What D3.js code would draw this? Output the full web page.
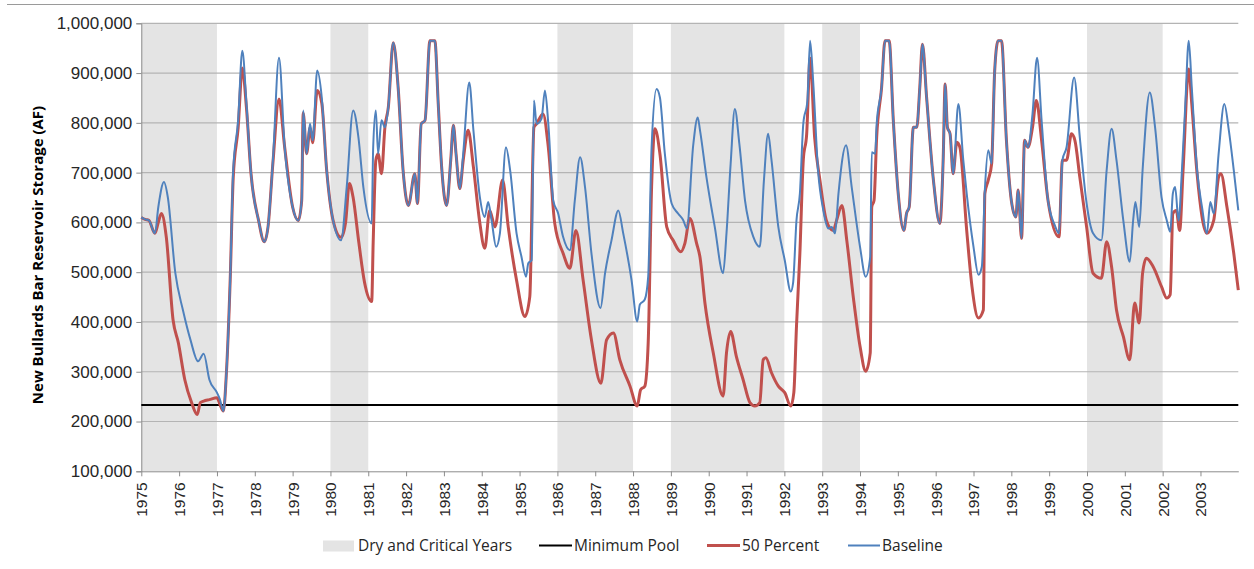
<!DOCTYPE html>
<html>
<head>
<meta charset="utf-8">
<script src="https://cdn.jsdelivr.net/npm/d3@7"></script>
<style>
  body { margin: 0; background: #fff; }
  svg { display: block; font-family: "Open Sans", "Liberation Sans", sans-serif; }
</style>
</head>
<body>
<div id="chart"></div>
<script>
// Dry and critical water years (shaded bands)
const dryYears = [[1975, 1977], [1980, 1981], [1986, 1988], [1989, 1992], [1993, 1994], [2000, 2002]];

const yearTicks = d3.range(1975, 2004);
const storageTicks = d3.range(100000, 1000001, 100000);
const minimumPool = 233000;

// [decimal year, storage in thousand AF]
const baseline = [
  [1975.00, 610], [1975.10, 606], [1975.20, 604], [1975.36, 578], [1975.45, 631], [1975.60, 681],
  [1975.70, 651], [1975.90, 498], [1976.10, 424], [1976.30, 364], [1976.50, 321], [1976.65, 336],
  [1976.80, 284], [1977.00, 258], [1977.08, 244], [1977.17, 221], [1977.25, 298], [1977.35, 485],
  [1977.43, 705], [1977.56, 805], [1977.67, 945], [1977.78, 838], [1977.90, 698], [1978.10, 604],
  [1978.25, 561], [1978.35, 591], [1978.48, 725], [1978.64, 931], [1978.79, 751], [1979.00, 631],
  [1979.15, 604], [1979.24, 644], [1979.28, 825], [1979.37, 738], [1979.46, 798], [1979.53, 765],
  [1979.65, 905], [1979.77, 851], [1979.90, 705], [1980.07, 604], [1980.28, 564], [1980.43, 671],
  [1980.60, 825], [1980.74, 771], [1980.87, 671], [1981.09, 598], [1981.13, 751], [1981.20, 825],
  [1981.26, 738], [1981.35, 805], [1981.44, 791], [1981.53, 831], [1981.66, 961], [1981.79, 871],
  [1981.92, 705], [1982.06, 634], [1982.23, 698], [1982.30, 638], [1982.40, 798], [1982.50, 805],
  [1982.63, 965], [1982.76, 965], [1982.85, 838], [1982.94, 711], [1983.07, 634], [1983.18, 725],
  [1983.25, 795], [1983.32, 738], [1983.42, 668], [1983.51, 738], [1983.67, 881], [1983.78, 785],
  [1983.95, 651], [1984.08, 611], [1984.17, 641], [1984.26, 604], [1984.38, 551], [1984.48, 578],
  [1984.64, 751], [1984.75, 705], [1984.92, 578], [1985.05, 531], [1985.17, 491], [1985.23, 518],
  [1985.32, 524], [1985.38, 845], [1985.45, 798], [1985.58, 808], [1985.67, 865], [1985.76, 798],
  [1985.89, 644], [1986.02, 618], [1986.15, 571], [1986.33, 544], [1986.46, 644], [1986.60, 731],
  [1986.73, 671], [1986.90, 538], [1987.14, 428], [1987.26, 498], [1987.43, 564], [1987.61, 624],
  [1987.74, 578], [1987.96, 484], [1988.11, 401], [1988.18, 435], [1988.31, 445], [1988.40, 491],
  [1988.49, 751], [1988.62, 868], [1988.71, 851], [1988.84, 738], [1989.02, 638], [1989.19, 618],
  [1989.33, 604], [1989.42, 588], [1989.59, 755], [1989.71, 811], [1989.77, 785], [1989.94, 691],
  [1990.16, 591], [1990.38, 498], [1990.47, 578], [1990.58, 718], [1990.69, 828], [1990.81, 758],
  [1990.96, 644], [1991.18, 571], [1991.35, 551], [1991.46, 685], [1991.57, 778], [1991.66, 725],
  [1991.84, 591], [1992.01, 524], [1992.17, 461], [1992.23, 478], [1992.32, 604], [1992.41, 658],
  [1992.50, 798], [1992.61, 845], [1992.68, 965], [1992.76, 885], [1992.89, 705], [1993.03, 624],
  [1993.16, 588], [1993.25, 591], [1993.34, 578], [1993.43, 658], [1993.63, 755], [1993.78, 671],
  [1994.00, 551], [1994.15, 491], [1994.27, 531], [1994.31, 741], [1994.40, 738], [1994.44, 798],
  [1994.57, 871], [1994.66, 965], [1994.77, 965], [1994.88, 805], [1995.01, 658], [1995.16, 584],
  [1995.23, 618], [1995.30, 631], [1995.41, 791], [1995.50, 791], [1995.58, 871], [1995.65, 958],
  [1995.76, 851], [1995.94, 685], [1996.11, 598], [1996.20, 731], [1996.25, 878], [1996.31, 791],
  [1996.38, 778], [1996.46, 698], [1996.60, 838], [1996.73, 725], [1996.82, 658], [1997.00, 551],
  [1997.13, 495], [1997.22, 511], [1997.30, 665], [1997.39, 745], [1997.48, 718], [1997.56, 905],
  [1997.65, 965], [1997.74, 965], [1997.87, 765], [1998.00, 644], [1998.12, 611], [1998.18, 665],
  [1998.27, 568], [1998.35, 765], [1998.44, 751], [1998.56, 818], [1998.68, 931], [1998.80, 805],
  [1998.97, 644], [1999.15, 594], [1999.26, 578], [1999.35, 725], [1999.46, 751], [1999.66, 891],
  [1999.81, 771], [1999.99, 638], [2000.16, 578], [2000.38, 564], [2000.52, 705], [2000.65, 788],
  [2000.78, 725], [2000.96, 604], [2001.13, 521], [2001.22, 604], [2001.28, 641], [2001.38, 591],
  [2001.47, 705], [2001.66, 861], [2001.80, 791], [2001.97, 651], [2002.11, 604], [2002.20, 581],
  [2002.27, 658], [2002.33, 671], [2002.42, 604], [2002.51, 705], [2002.60, 838], [2002.69, 965],
  [2002.77, 871], [2002.91, 705], [2003.04, 631], [2003.17, 578], [2003.26, 641], [2003.35, 618],
  [2003.48, 738], [2003.63, 838], [2003.75, 785], [2003.88, 705], [2004.00, 624]
];

const fiftyPercent = [
  [1975.00, 610], [1975.10, 606], [1975.20, 604], [1975.36, 578], [1975.45, 600], [1975.53, 618],
  [1975.66, 571], [1975.84, 404], [1975.98, 358], [1976.15, 284], [1976.33, 238], [1976.48, 214],
  [1976.56, 238], [1976.65, 241], [1976.80, 244], [1977.00, 248], [1977.08, 234], [1977.17, 221],
  [1977.25, 298], [1977.35, 485], [1977.43, 690], [1977.56, 790], [1977.67, 910], [1977.78, 830],
  [1977.90, 698], [1978.10, 604], [1978.25, 561], [1978.35, 591], [1978.48, 720], [1978.64, 848],
  [1978.79, 751], [1979.00, 631], [1979.15, 604], [1979.24, 644], [1979.28, 820], [1979.37, 738],
  [1979.46, 790], [1979.53, 760], [1979.65, 865], [1979.77, 840], [1979.90, 705], [1980.07, 604],
  [1980.28, 570], [1980.40, 600], [1980.50, 678], [1980.60, 650], [1980.75, 560], [1980.90, 480],
  [1981.09, 441], [1981.13, 560], [1981.20, 725], [1981.26, 738], [1981.35, 698], [1981.44, 791],
  [1981.53, 831], [1981.66, 961], [1981.79, 871], [1981.92, 705], [1982.06, 634], [1982.23, 698],
  [1982.30, 638], [1982.40, 798], [1982.50, 805], [1982.63, 965], [1982.76, 965], [1982.85, 838],
  [1982.94, 711], [1983.07, 634], [1983.18, 725], [1983.25, 795], [1983.32, 738], [1983.42, 668],
  [1983.51, 725], [1983.64, 785], [1983.78, 711], [1983.94, 604], [1984.08, 548], [1984.21, 624],
  [1984.35, 591], [1984.55, 685], [1984.70, 591], [1984.92, 484], [1985.14, 411], [1985.27, 451],
  [1985.38, 791], [1985.45, 798], [1985.62, 818], [1985.76, 751], [1985.93, 598], [1986.15, 538],
  [1986.33, 508], [1986.49, 584], [1986.68, 484], [1986.90, 364], [1987.15, 277], [1987.30, 364],
  [1987.48, 378], [1987.65, 324], [1987.92, 271], [1988.11, 231], [1988.20, 264], [1988.31, 271],
  [1988.40, 358], [1988.49, 671], [1988.58, 788], [1988.71, 738], [1988.89, 591], [1989.06, 564],
  [1989.26, 541], [1989.37, 558], [1989.50, 608], [1989.68, 558], [1989.77, 530], [1989.90, 438],
  [1990.12, 338], [1990.38, 251], [1990.47, 338], [1990.58, 381], [1990.73, 331], [1990.91, 284],
  [1991.09, 238], [1991.22, 231], [1991.35, 238], [1991.44, 324], [1991.51, 328], [1991.66, 298],
  [1991.84, 271], [1992.01, 258], [1992.17, 231], [1992.25, 258], [1992.32, 391], [1992.41, 538],
  [1992.50, 725], [1992.59, 778], [1992.68, 930], [1992.80, 771], [1992.94, 685], [1993.11, 604],
  [1993.29, 584], [1993.38, 604], [1993.52, 634], [1993.65, 564], [1993.83, 445], [1994.00, 351],
  [1994.15, 301], [1994.27, 338], [1994.31, 631], [1994.37, 644], [1994.44, 771], [1994.57, 871],
  [1994.66, 965], [1994.77, 965], [1994.88, 805], [1995.01, 658], [1995.16, 584], [1995.23, 618],
  [1995.30, 631], [1995.41, 791], [1995.50, 791], [1995.58, 871], [1995.65, 958], [1995.76, 851],
  [1995.94, 685], [1996.11, 598], [1996.20, 731], [1996.25, 878], [1996.31, 791], [1996.38, 778],
  [1996.46, 698], [1996.56, 761], [1996.64, 751], [1996.82, 584], [1996.96, 471], [1997.13, 408],
  [1997.26, 424], [1997.30, 658], [1997.39, 685], [1997.48, 718], [1997.56, 905], [1997.65, 965],
  [1997.74, 965], [1997.87, 765], [1998.00, 644], [1998.12, 611], [1998.18, 665], [1998.27, 568],
  [1998.35, 765], [1998.44, 751], [1998.56, 791], [1998.66, 845], [1998.80, 765], [1998.97, 644],
  [1999.26, 571], [1999.35, 725], [1999.46, 725], [1999.59, 778], [1999.68, 765], [1999.81, 691],
  [1999.99, 591], [2000.16, 498], [2000.38, 488], [2000.52, 561], [2000.65, 511], [2000.78, 424],
  [2000.96, 371], [2001.13, 324], [2001.26, 438], [2001.38, 398], [2001.47, 498], [2001.57, 528],
  [2001.75, 511], [2001.97, 471], [2002.11, 448], [2002.20, 455], [2002.27, 618], [2002.36, 624],
  [2002.45, 584], [2002.54, 705], [2002.69, 908], [2002.77, 838], [2002.91, 698], [2003.17, 578],
  [2003.35, 604], [2003.48, 691], [2003.54, 698], [2003.70, 631], [2003.88, 538], [2004.00, 464]
];

const width = 1254, height = 569;
const margin = { top: 23.3, right: 15.7, bottom: 97.7, left: 141.3 };

const svg = d3.select("#chart").append("svg")
  .attr("width", width)
  .attr("height", height);

const x = d3.scaleLinear().domain([1975, 2004]).range([margin.left, width - margin.right]);
const y = d3.scaleLinear().domain([100000, 1000000]).range([height - margin.bottom, margin.top]);

// top frame line
svg.append("line")
  .attr("x1", 7).attr("x2", width).attr("y1", 4.5).attr("y2", 4.5)
  .attr("stroke", "#9a9a9a").attr("stroke-width", 1.2);

// dry year bands
svg.append("g").selectAll("rect")
  .data(dryYears)
  .join("rect")
  .attr("x", d => x(d[0]))
  .attr("width", d => x(d[1]) - x(d[0]))
  .attr("y", y(1000000))
  .attr("height", y(100000) - y(1000000))
  .attr("fill", "#e4e4e4");

// gridlines
svg.append("g").selectAll("line")
  .data(storageTicks.slice(1))
  .join("line")
  .attr("x1", x(1975)).attr("x2", x(2004))
  .attr("y1", d => y(d)).attr("y2", d => y(d))
  .attr("stroke", "#b4b4b4").attr("stroke-width", 1.2);

// y axis
const yAxis = svg.append("g")
  .attr("transform", `translate(${x(1975)},0)`)
  .call(d3.axisLeft(y).tickValues(storageTicks).tickFormat(d3.format(",")).tickSize(5).tickPadding(4));
yAxis.select(".domain").attr("stroke", "#8c8c8c");
yAxis.selectAll(".tick line").attr("stroke", "#8c8c8c");
yAxis.selectAll(".tick text")
  .attr("fill", "#262626")
  .style("font-size", "17px");

// x axis
const xAxis = svg.append("g")
  .attr("transform", `translate(0,${y(100000)})`)
  .call(d3.axisBottom(x).tickValues(yearTicks).tickFormat(d3.format("d")).tickSize(5).tickSizeOuter(0));
xAxis.select(".domain").attr("stroke", "#8c8c8c");
xAxis.selectAll(".tick line").attr("stroke", "#8c8c8c");
xAxis.selectAll(".tick text")
  .attr("fill", "#262626")
  .style("font-size", "15.5px")
  .attr("text-anchor", "end")
  .attr("transform", "rotate(-90)")
  .attr("x", -11)
  .attr("y", 0)
  .attr("dy", "0.35em");

// y axis title
svg.append("text")
  .attr("transform", `translate(43,255) rotate(-90)`)
  .attr("text-anchor", "middle")
  .attr("fill", "#000")
  .style("font-size", "15px")
  .style("font-weight", "bold")
  .text("New Bullards Bar Reservoir Storage (AF)");

// minimum pool
svg.append("line")
  .attr("x1", x(1975)).attr("x2", x(2004))
  .attr("y1", y(minimumPool)).attr("y2", y(minimumPool))
  .attr("stroke", "#000").attr("stroke-width", 2);

const line = d3.line()
  .curve(d3.curveMonotoneX)
  .x(d => x(d[0]))
  .y(d => y(d[1] * 1000));

svg.append("path")
  .datum(fiftyPercent)
  .attr("d", line)
  .attr("fill", "none")
  .attr("stroke", "#c0504d")
  .attr("stroke-width", 3)
  .attr("stroke-linejoin", "round");

svg.append("path")
  .datum(baseline)
  .attr("d", line)
  .attr("fill", "none")
  .attr("stroke", "#4f81bd")
  .attr("stroke-width", 2)
  .attr("stroke-linejoin", "round");

// legend
const legend = svg.append("g").style("font-size", "15.5px").attr("fill", "#262626");
const ly = 545.5;

legend.append("rect")
  .attr("x", 323).attr("y", ly - 5).attr("width", 31).attr("height", 11)
  .attr("fill", "#e4e4e4");
legend.append("text").attr("x", 358).attr("y", ly).attr("dy", "0.35em").text("Dry and Critical Years");

const legendLines = [
  { x1: 539, x2: 572, color: "#000", w: 2, label: "Minimum Pool" },
  { x1: 707, x2: 740, color: "#c0504d", w: 3, label: "50 Percent" },
  { x1: 848, x2: 880, color: "#4f81bd", w: 2, label: "Baseline" }
];
legendLines.forEach(d => {
  legend.append("line")
    .attr("x1", d.x1).attr("x2", d.x2).attr("y1", ly).attr("y2", ly)
    .attr("stroke", d.color).attr("stroke-width", d.w);
  legend.append("text").attr("x", d.x2 + 2).attr("y", ly).attr("dy", "0.35em").text(d.label);
});
</script>
</body>
</html>
